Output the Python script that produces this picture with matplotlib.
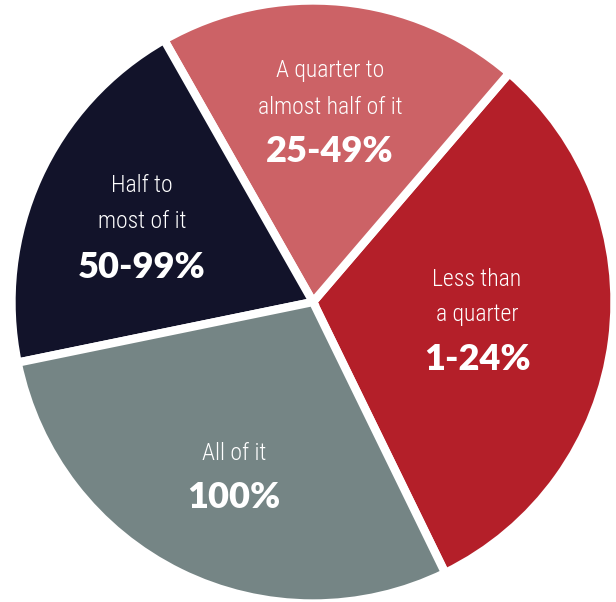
import matplotlib
matplotlib.use('Agg')
from matplotlib import pyplot as plt
from matplotlib import font_manager

# share of responses per answer
categories = ['Less than\na quarter', 'A quarter to\nalmost half of it', 'Half to\nmost of it', 'All of it']
ranges = ['1-24%', '25-49%', '50-99%', '100%']
shares = [31.5, 19.5, 20, 29]
colors = ['#B41F29', '#CC6266', '#12132A', '#758585']

# where each label block sits (x, y of the bold line, in pixels from top-left)
label_pos = [(477, 360), (330, 152), (142, 267), (234, 498)]

W, H = 616, 602
cx, cy, R = 313, 302, 301.5

available = set(f.name for f in font_manager.fontManager.ttflist)
def pick(options):
    for name in options:
        if name in available:
            return name
    return 'DejaVu Sans'

light_font = pick(['Roboto Condensed', 'Liberation Sans Narrow', 'Open Sans Condensed', 'Lato', 'Roboto'])
bold_font = pick(['Lato', 'Open Sans', 'Roboto', 'Noto Sans'])

fig = plt.figure(figsize=(W / 100, H / 100), dpi=100)
ax = fig.add_axes([0, 0, 1, 1])
ax.pie(shares, colors=colors, startangle=-64, counterclock=True,
       center=(cx, H - cy), radius=R,
       wedgeprops=dict(edgecolor='white', linewidth=6))
ax.set_xlim(0, W)
ax.set_ylim(0, H)
ax.set_aspect('equal')
ax.axis('off')

for cat, rng, (x, y) in zip(categories, ranges, label_pos):
    ax.text(x, H - y, rng, ha='center', va='center', color='white',
            fontsize=26, fontweight='heavy', family=bold_font)
    lines = cat.split('\n')
    for i, line in enumerate(reversed(lines)):
        ax.text(x, H - y + 45 + 36 * i, line, ha='center', va='center',
                color='white', fontsize=17, fontweight='light', family=light_font)

fig.savefig('out.png', dpi=100)
